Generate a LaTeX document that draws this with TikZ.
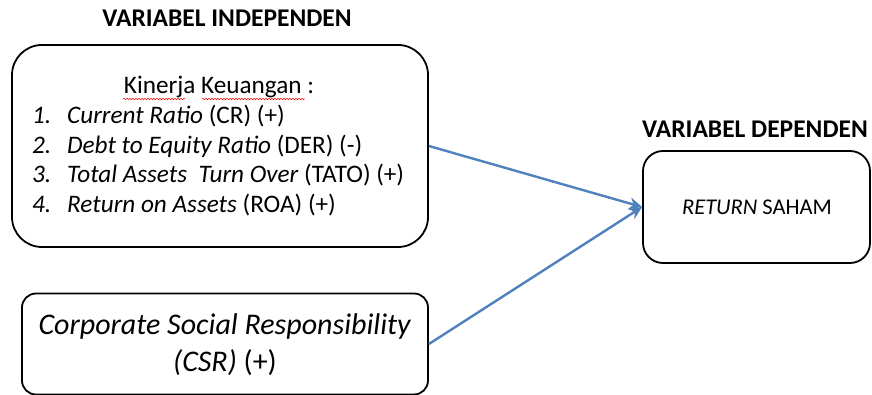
\documentclass[tikz,border=0pt]{standalone}
\usepackage{fontspec}
\setmainfont{Carlito}
\usetikzlibrary{arrows.meta,decorations.pathmorphing}
\definecolor{pfeilblau}{RGB}{79,129,189}
\tikzset{
  kasten/.style={draw,line width=1.8pt,inner sep=0pt},
  titel/.style={font=\bfseries\fontsize{25.5}{30}\selectfont,anchor=base},
  isi/.style={font=\fontsize{25.2}{30}\selectfont,anchor=base west,inner sep=0pt},
  pfeil/.style={pfeilblau,line width=2.4pt,-{Stealth[length=13pt,width=12pt]}},
  gelombang/.style={red,line width=0.5pt,decorate,decoration={snake,amplitude=0.7pt,segment length=3pt}}
}
\begin{document}
\begin{tikzpicture}[x=1pt,y=-1pt]
  \useasboundingbox (0,0) rectangle (872,395);
  % Ueberschriften
  \node[titel] (tindep) at (227,27) {VARIABEL INDEPENDEN};
  \node[titel] (tdep) at (755,138) {VARIABEL DEPENDEN};
  % Kaesten
  \node[kasten,rounded corners=30pt,minimum width=416pt,minimum height=202pt] (kinerja) at (220,146) {};
  \node[kasten,rounded corners=14pt,minimum width=406pt,minimum height=101pt] (csr) at (225,344) {};
  \node[kasten,rounded corners=20pt,minimum width=227pt,minimum height=112pt] (return) at (756.5,207) {};
  % Inhalt Kinerja
  \node[isi,anchor=base] (judul) at (219,94) {Kinerja Keuangan :};
  \draw[gelombang] (123,99) -- (185,99);
  \draw[gelombang] (202,99) -- (305,99);
  \foreach \y/\txt [count=\i] in {124/{\textit{Current Ratio} (CR) (+)},
      154/{\textit{Debt to Equity Ratio} (DER) (-)},
      183/{\textit{Total Assets\ \ Turn Over} (TATO) (+)},
      213/{\textit{Return on Assets} (ROA) (+)}}
  {
    \node[isi] (nr\i) at (32,\y) {\textit{\i.}};
    \node[isi] (item\i) at (67,\y) {\txt};
  }
  % Inhalt CSR
  \node[font=\fontsize{30}{37}\selectfont,align=center] (csrtext) at (225,345)
    {\textit{Corporate Social Responsibility}\\\textit{(CSR)} (+)};
  % Inhalt Return
  \node[font=\fontsize{22.5}{27}\selectfont,anchor=base] (rettext) at (757,215) {\textit{RETURN} SAHAM};
  % Pfeile
  \draw[pfeil] (kinerja.east) -- (return.west);
  \draw[pfeil] (csr.east) -- (return.west);
\end{tikzpicture}
\end{document}
